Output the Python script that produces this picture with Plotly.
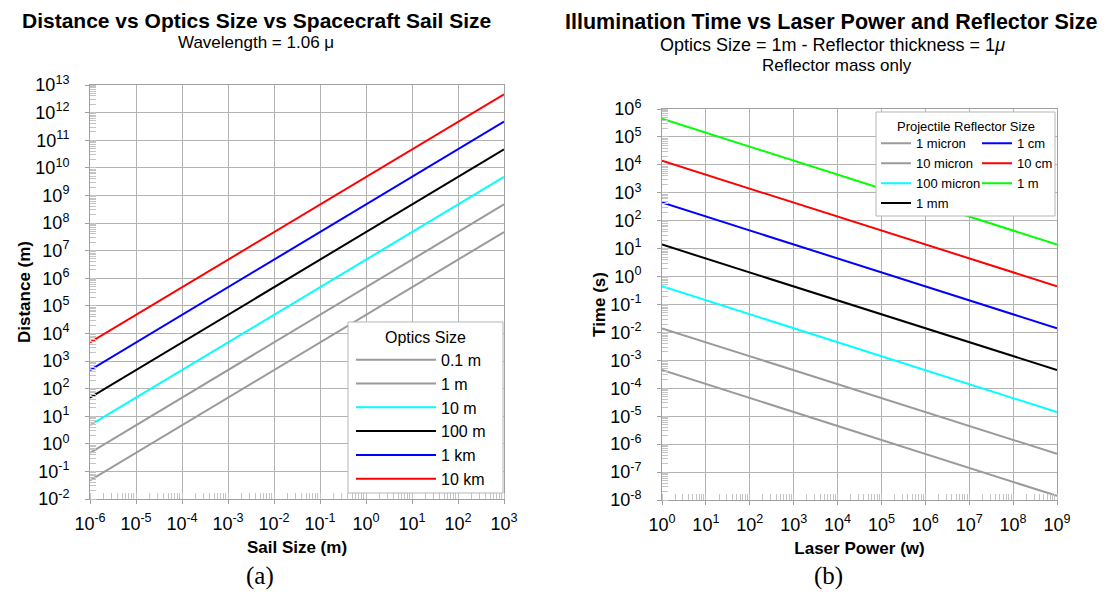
import plotly.graph_objects as go

# Page body keeps its default 8px margin, so the figure is sized to fill the
# remaining visible window and positions below are given in window pixels.
WIN_W, WIN_H = 1107, 592
OFF = 8
W, H = WIN_W - OFF, WIN_H - OFF

# ---------------- Left chart data (Distance vs Sail Size) ----------------
sail_size = [1e-6, 1e3]
optics_labels = ["0.1 m", "1 m", "10 m", "100 m", "1 km", "10 km"]
optics_colors = ["#9a9a9a", "#9a9a9a", "#00ffff", "#000000", "#0000ff", "#ff0000"]
dist_0p1m = [0.047, 4.7e7]
dist_1m = [0.47, 4.7e8]
dist_10m = [4.7, 4.7e9]
dist_100m = [47, 4.7e10]
dist_1km = [470, 4.7e11]
dist_10km = [4700, 4.6e12]
left_series = [dist_0p1m, dist_1m, dist_10m, dist_100m, dist_1km, dist_10km]

# ---------------- Right chart data (Time vs Laser Power) ----------------
laser_power = [1, 1e9]
reflector_labels = ["1 micron", "10 micron", "100 micron", "1 mm", "1 cm", "10 cm", "1 m"]
reflector_colors = ["#9a9a9a", "#9a9a9a", "#00ffff", "#000000", "#0000ff", "#ff0000", "#00ff00"]
time_1micron = [4.5e-4, 1.4e-8]
time_10micron = [1.4e-2, 4.5e-7]
time_100micron = [0.45, 1.4e-5]
time_1mm = [14, 4.5e-4]
time_1cm = [450, 1.4e-2]
time_10cm = [1.4e4, 0.45]
time_1m = [4.5e5, 14]
right_series = [time_1micron, time_10micron, time_100micron, time_1mm,
                time_1cm, time_10cm, time_1m]
right_legend_cols = ["legend2", "legend2", "legend2", "legend2",
                     "legend3", "legend3", "legend3"]

# tick exponents
left_x_exp = list(range(-6, 4))
left_y_exp = list(range(-2, 14))
right_x_exp = list(range(0, 10))
right_y_exp = list(range(-8, 7))


def px(x):
    return (x - OFF) / W


def py(y):
    return 1 - (y - OFF) / H


def ticks(exps):
    return [10.0 ** e for e in exps], ["10<sup>%d</sup>" % e for e in exps]


FONT = "Liberation Sans"
GRID = "#b3b3b3"
AXIS = "#a0a0a0"

fig = go.Figure()

for name, color, vals in zip(optics_labels, optics_colors, left_series):
    fig.add_trace(go.Scatter(x=sail_size, y=vals, mode="lines", name=name,
                             line=dict(color=color, width=2),
                             xaxis="x", yaxis="y", legend="legend"))

for name, color, vals, lg in zip(reflector_labels, reflector_colors, right_series, right_legend_cols):
    fig.add_trace(go.Scatter(x=laser_power, y=vals, mode="lines", name=name,
                             line=dict(color=color, width=2),
                             xaxis="x2", yaxis="y2", legend=lg))


def axis_style(exps, rng, domain, anchor, title, standoff, labstand):
    tv, tt = ticks(exps)
    return dict(
        type="log", range=rng, domain=domain, anchor=anchor,
        tickvals=tv, ticktext=tt,
        showgrid=True, gridcolor=GRID, gridwidth=1,
        showline=True, linecolor=AXIS, linewidth=1, mirror=True,
        ticks="outside", ticklen=4, tickcolor=AXIS,
        minor=dict(ticks="inside", ticklen=6, tickcolor="#c4c4c4", dtick="D1", showgrid=False),
        tickfont=dict(family=FONT, size=18, color="#000000"),
        ticklabelstandoff=labstand,
        title=dict(text="<b>%s</b>" % title, font=dict(family=FONT, size=17, color="#000000"),
                   standoff=standoff),
        zeroline=False,
    )


xd1 = [px(90), px(504)]
yd1 = [py(499), py(85)]
xd2 = [px(662), px(1057)]
yd2 = [py(500), py(109)]


def note(text, x, y, size, family=FONT):
    return dict(text=text, x=px(x), y=py(y), xref="paper", yref="paper",
                showarrow=False, xanchor="center", yanchor="middle",
                font=dict(family=family, size=size, color="#000000"))


layout = dict(
    width=W, height=H,
    margin=dict(l=0, r=0, t=0, b=0, autoexpand=False),
    paper_bgcolor="white", plot_bgcolor="white",
    template="none",
    font=dict(family=FONT, size=14, color="#000000"),
    xaxis=axis_style(left_x_exp, [-6, 3], xd1, "y", "Sail Size (m)", 8, 4),
    yaxis=axis_style(left_y_exp, [-2, 13], yd1, "x", "Distance (m)", 0, 12),
    xaxis2=axis_style(right_x_exp, [0, 9], xd2, "y2", "Laser Power (w)", 8, 4),
    yaxis2=axis_style(right_y_exp, [-8, 6], yd2, "x2", "Time (s)", 0, 12),
    showlegend=True,
    legend=dict(x=px(351), y=py(342.8), xanchor="left", yanchor="top",
                bgcolor="rgba(0,0,0,0)", borderwidth=0, itemwidth=80,
                font=dict(family=FONT, size=16, color="#000000"), traceorder="normal"),
    legend2=dict(x=px(876), y=py(128.4), xanchor="left", yanchor="top",
                 bgcolor="rgba(0,0,0,0)", borderwidth=0, itemwidth=30,
                 font=dict(family=FONT, size=13, color="#000000"), traceorder="normal"),
    legend3=dict(x=px(977), y=py(128.4), xanchor="left", yanchor="top",
                 bgcolor="rgba(0,0,0,0)", borderwidth=0, itemwidth=30,
                 font=dict(family=FONT, size=13, color="#000000"), traceorder="normal"),
    shapes=[
        dict(type="rect", xref="paper", yref="paper", layer="above",
             x0=px(348), x1=px(503), y0=py(493), y1=py(322),
             fillcolor="white", line=dict(color="#b5b5b5", width=1)),
        dict(type="rect", xref="paper", yref="paper", layer="above",
             x0=px(876), x1=px(1055), y0=py(216), y1=py(112),
             fillcolor="white", line=dict(color="#b5b5b5", width=1)),
    ],
    annotations=[
        note("<b>Distance vs Optics Size vs Spacecraft Sail Size</b>", 256, 20.5, 21),
        note("Wavelength = 1.06 μ", 256, 43, 17),
        note("<b>Illumination Time vs Laser Power and Reflector Size</b>", 831, 21.5, 21.5),
        note("Optics Size = 1m - Reflector thickness = 1<i>μ</i>", 832, 45, 18),
        note("Reflector mass only", 837, 65, 17),
        note("Optics Size", 425, 337, 16),
        note("Projectile Reflector Size", 966, 126, 13),
        note("(a)", 260, 576, 25, "Liberation Serif"),
        note("(b)", 828, 576, 25, "Liberation Serif"),
    ],
)
fig.update_layout(**layout)

fig.write_html("out.html")
